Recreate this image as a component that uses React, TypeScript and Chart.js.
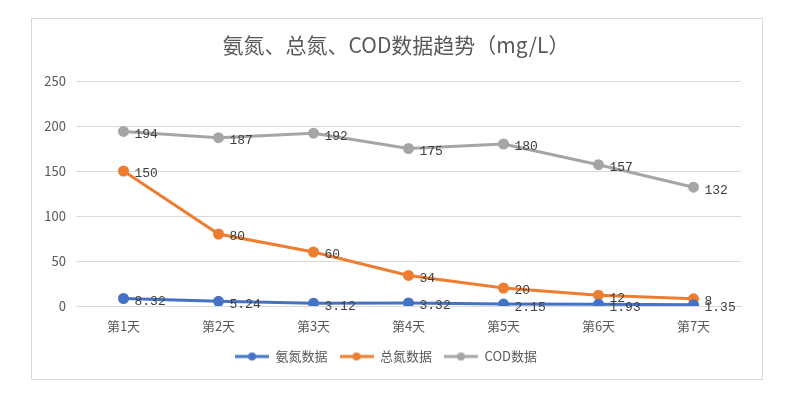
import React, { useEffect, useRef } from "react";
import { Chart, registerables } from "chart.js";

Chart.register(...registerables);

const categories = ["第1天", "第2天", "第3天", "第4天", "第5天", "第6天", "第7天"];
const ammoniaNitrogen = [8.32, 5.24, 3.12, 3.32, 2.15, 1.93, 1.35];
const totalNitrogen = [150, 80, 60, 34, 20, 12, 8];
const codValues = [194, 187, 192, 175, 180, 157, 132];
const seriesNames = ["氨氮数据", "总氮数据", "COD数据"];
const titleText = "氨氮、总氮、COD数据趋势（mg/L）";

const COLORS = ["#4472C4", "#ED7D31", "#A5A5A5"];
const TEXT = "#595959";
const CJK = '"Noto Sans CJK SC", "DejaVu Sans", sans-serif';
const MONO = '"Liberation Mono", "Noto Sans CJK SC", monospace';

function legendIcon(color: string): HTMLCanvasElement {
  const c = document.createElement("canvas");
  c.width = 34;
  c.height = 10;
  const ctx = c.getContext("2d")!;
  ctx.strokeStyle = color;
  ctx.lineWidth = 3;
  ctx.beginPath();
  ctx.moveTo(0, 5);
  ctx.lineTo(34, 5);
  ctx.stroke();
  ctx.fillStyle = color;
  ctx.beginPath();
  ctx.arc(17, 5, 4, 0, Math.PI * 2);
  ctx.fill();
  return c;
}

const framePlugin = {
  id: "frame",
  beforeDraw(chart: any) {
    const ctx = chart.ctx;
    ctx.save();
    ctx.fillStyle = "#ffffff";
    ctx.fillRect(0, 0, chart.width, chart.height);
    ctx.strokeStyle = "#d9d9d9";
    ctx.lineWidth = 1;
    ctx.strokeRect(31.5, 18.5, 731, 361);
    ctx.fillStyle = TEXT;
    ctx.font = "21px " + CJK;
    ctx.textAlign = "center";
    ctx.textBaseline = "middle";
    ctx.fillText(titleText, 396, 45);
    ctx.restore();
  },
};

const labelPlugin = {
  id: "valueLabels",
  afterDatasetsDraw(chart: any) {
    const ctx = chart.ctx;
    ctx.save();
    ctx.fillStyle = "#404040";
    ctx.font = "13px " + MONO;
    ctx.textAlign = "left";
    ctx.textBaseline = "middle";
    chart.data.datasets.forEach((ds: any, i: number) => {
      const meta = chart.getDatasetMeta(i);
      meta.data.forEach((pt: any, j: number) => {
        ctx.fillText(String(ds.data[j]), pt.x + 11, pt.y + 3);
      });
    });
    ctx.restore();
  },
};

export default function App() {
  const ref = useRef<HTMLCanvasElement>(null);
  useEffect(() => {
    const datasets = [ammoniaNitrogen, totalNitrogen, codValues].map((d, i) => ({
      label: seriesNames[i],
      data: d,
      borderColor: COLORS[i],
      backgroundColor: COLORS[i],
      borderWidth: 3,
      pointRadius: 4,
      pointHoverRadius: 4,
      pointStyle: "circle",
      tension: 0,
    }));
    const chart = new Chart(ref.current!, {
      type: "line",
      data: {
        labels: categories,
        datasets: datasets as any,
      },
      options: {
        animation: false,
        responsive: false,
        layout: { padding: { left: 31, right: 54, top: 81, bottom: 28 } },
        plugins: {
          title: { display: false },
          tooltip: { enabled: false },
          legend: {
            display: true,
            position: "bottom",
            labels: {
              usePointStyle: true,
              pointStyleWidth: 34,
              boxHeight: 10,
              padding: 12,
              color: TEXT,
              font: { family: CJK, size: 13 },
              generateLabels: (ch: any) =>
                ch.data.datasets.map((ds: any, i: number) => ({
                  text: ds.label,
                  pointStyle: legendIcon(COLORS[i]),
                  fillStyle: COLORS[i],
                  strokeStyle: COLORS[i],
                  lineWidth: 0,
                  fontColor: TEXT,
                  hidden: false,
                  datasetIndex: i,
                })),
            },
          },
        },
        scales: {
          x: {
            offset: true,
            grid: { display: false },
            border: { display: true, color: "#d9d9d9" },
            ticks: { color: TEXT, font: { family: CJK, size: 13 }, padding: 4 },
            afterFit: (s: any) => {
              s.height = 32;
            },
          },
          y: {
            min: 0,
            max: 250,
            ticks: { stepSize: 50, color: TEXT, font: { family: CJK, size: 13 }, padding: 10 },
            grid: { color: "#d9d9d9", drawTicks: false },
            border: { display: false },
            afterFit: (s: any) => {
              s.width = 45;
            },
          },
        },
      },
      plugins: [framePlugin, labelPlugin],
    });
    return () => chart.destroy();
  }, []);
  return (
    <div style={{ position: "fixed", left: 0, top: 0, width: 795, height: 401 }}>
      <canvas ref={ref} width={795} height={401} style={{ width: 795, height: 401 }} />
    </div>
  );
}
